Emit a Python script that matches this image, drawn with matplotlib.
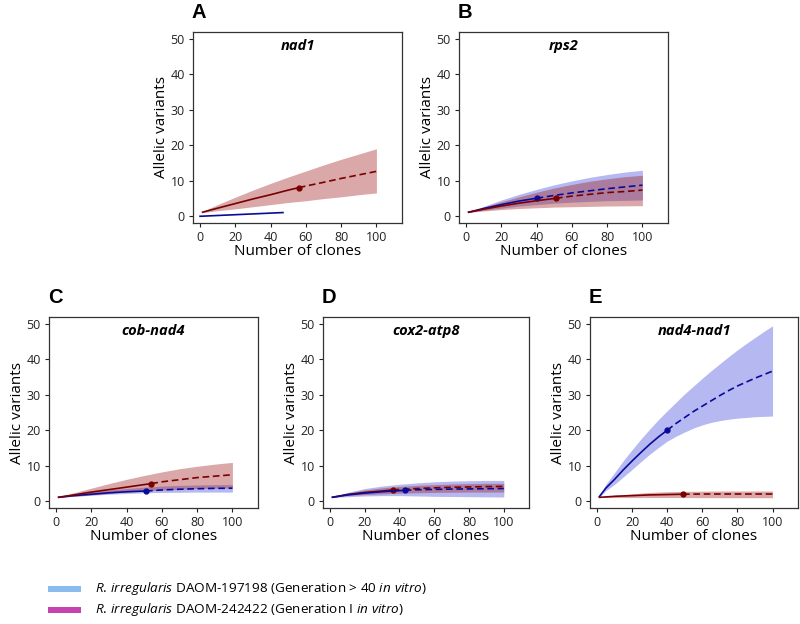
import matplotlib
matplotlib.use("Agg")
import matplotlib.pyplot as plt
from matplotlib.patches import Rectangle
import numpy as np

plt.rcParams['font.family'] = ['Open Sans', 'DejaVu Sans']
plt.rcParams['mathtext.fontset'] = 'custom'
plt.rcParams['mathtext.rm'] = 'Open Sans'
plt.rcParams['mathtext.it'] = 'Open Sans:italic'

# ---------------- data ----------------
GRID = [1, 10, 20, 30, 40, 50, 60, 70, 80, 90, 100]
GRID_E = [1, 5, 10, 15, 20, 25, 30, 35, 40, 45, 50, 55, 60, 65, 70, 75, 80, 85, 90, 95, 100]
titles = ["nad1", "rps2", "cob-nad4", "cox2-atp8", "nad4-nad1"]
letters = ["A", "B", "C", "D", "E"]

# Panel A (nad1)
a_red_x = [1, 10, 20, 30, 40, 50, 56, 60, 70, 80, 90, 100]
a_red_y = [1, 2.2, 3.5, 4.8, 6.0, 7.3, 8.0, 8.45, 9.5, 10.6, 11.6, 12.6]
a_red_obs = 56
a_red_up = [1.2, 3.2, 5.3, 7.3, 9.2, 11.0, 12.7, 14.4, 16.0, 17.5, 19.0]
a_red_lo = [0.9, 1.5, 2.0, 2.6, 3.2, 3.8, 4.3, 4.9, 5.4, 6.0, 6.5]
a_blue_x = [0, 47]
a_blue_y = [-0.1, 0.95]

# Panel B (rps2)
b_blue_x = [1, 10, 20, 30, 40, 50, 60, 70, 80, 90, 100]
b_blue_y = [1, 2.1, 3.2, 4.2, 5.0, 5.8, 6.5, 7.1, 7.7, 8.2, 8.7]
b_blue_obs = 40
b_blue_up = [1, 2.7, 4.5, 6.1, 7.5, 8.8, 9.9, 10.9, 11.7, 12.4, 12.9]
b_blue_lo = [1, 1.6, 2.2, 2.8, 3.2, 3.6, 3.9, 4.1, 4.3, 4.4, 4.5]
b_red_x = [1, 10, 20, 30, 40, 51, 60, 70, 80, 90, 100]
b_red_y = [1, 1.9, 2.8, 3.6, 4.3, 5.0, 5.6, 6.1, 6.6, 6.9, 7.3]
b_red_obs = 51
b_red_up = [1, 2.5, 4.0, 5.4, 6.7, 7.9, 8.9, 9.8, 10.5, 11.1, 11.5]
b_red_lo = [1, 1.4, 1.8, 2.1, 2.3, 2.5, 2.6, 2.7, 2.8, 2.85, 2.9]

# Panel C (cob-nad4)
c_red_x = [1, 10, 20, 30, 40, 54, 60, 70, 80, 90, 100]
c_red_y = [1, 1.7, 2.5, 3.2, 3.9, 4.9, 5.4, 6.0, 6.6, 7.0, 7.4]
c_red_obs = 54
c_red_up = [1, 2.3, 3.6, 4.9, 6.1, 7.2, 8.2, 9.1, 9.8, 10.4, 10.9]
c_red_lo = [1, 1.3, 1.7, 2.1, 2.5, 2.8, 3.1, 3.3, 3.5, 3.6, 3.7]
c_blue_x = [1, 10, 20, 30, 40, 51, 60, 70, 80, 90, 100]
c_blue_y = [1, 1.5, 1.9, 2.3, 2.6, 2.8, 3.1, 3.3, 3.45, 3.55, 3.6]
c_blue_obs = 51
c_blue_up = [1, 1.8, 2.5, 3.1, 3.5, 3.9, 4.2, 4.4, 4.5, 4.6, 4.6]
c_blue_lo = [1, 1.3, 1.6, 1.9, 2.1, 2.3, 2.4, 2.45, 2.5, 2.5, 2.5]

# Panel D (cox2-atp8)
d_red_x = [1, 10, 20, 30, 36, 40, 50, 60, 70, 80, 90, 100]
d_red_y = [1, 1.8, 2.4, 2.8, 3.1, 3.25, 3.5, 3.7, 3.85, 3.95, 4.05, 4.1]
d_red_obs = 36
d_red_up = [1, 2.2, 3.1, 3.7, 4.1, 4.4, 4.6, 4.8, 4.9, 5.0, 5.0]
d_red_lo = [1, 1.5, 1.8, 2.0, 2.2, 2.3, 2.4, 2.45, 2.5, 2.5, 2.5]
d_blue_x = [1, 10, 20, 30, 43, 50, 60, 70, 80, 90, 100]
d_blue_y = [1, 1.7, 2.2, 2.6, 3.0, 3.15, 3.25, 3.35, 3.4, 3.45, 3.5]
d_blue_obs = 43
d_blue_up = [1, 2.4, 3.5, 4.2, 4.7, 5.1, 5.4, 5.6, 5.7, 5.8, 5.8]
d_blue_lo = [1, 1.2, 1.4, 1.5, 1.5, 1.4, 1.3, 1.25, 1.2, 1.15, 1.1]

# Panel E (nad4-nad1)
e_blue_x = GRID_E
e_blue_y = [1, 3.6, 6.1, 8.8, 11.3, 13.7, 16.0, 18.1, 20.0, 21.9, 23.6,
            25.3, 26.8, 28.3, 29.8, 31.2, 32.5, 33.6, 34.7, 35.7, 36.7]
e_blue_obs = 40
e_blue_up = [1, 4.7, 8.0, 11.4, 14.5, 17.5, 20.3, 23.0, 25.5, 27.9, 30.3,
             32.5, 34.7, 36.8, 38.8, 40.8, 42.7, 44.5, 46.2, 47.9, 49.5]
e_blue_lo = [1, 2.9, 4.7, 6.8, 8.9, 11.1, 13.2, 15.1, 16.9, 18.3, 19.5,
             20.6, 21.5, 22.2, 22.7, 23.1, 23.4, 23.6, 23.8, 23.9, 24.0]
e_red_x = [1, 10, 20, 30, 40, 49, 60, 70, 80, 90, 100]
e_red_y = [1, 1.3, 1.5, 1.7, 1.8, 1.9, 1.95, 1.95, 1.95, 1.95, 1.95]
e_red_obs = 49
e_red_up = [1, 1.6, 2.0, 2.4, 2.6, 2.7, 2.75, 2.8, 2.8, 2.8, 2.8]
e_red_lo = [1, 0.95, 0.95, 0.95, 0.95, 0.95, 0.92, 0.9, 0.9, 0.9, 0.9]

legend_labels = [
    r"$\mathit{R.\,irregularis}$ DAOM-197198 (Generation > 40 $\mathit{in\ vitro}$)",
    r"$\mathit{R.\,irregularis}$ DAOM-242422 (Generation I $\mathit{in\ vitro}$)",
]

# ---------------- style ----------------
BLUE_LINE = "#0a0a9a"
RED_LINE = "#7a0000"
BLUE_FILL = (0.25, 0.28, 0.86)
RED_FILL = (0.62, 0.10, 0.10)
FILL_ALPHA = 0.38

fig = plt.figure(figsize=(8, 6.24), dpi=100)
W, H = 800, 624

boxes = [(193, 32, 209, 191), (459, 32, 209, 191),
         (49, 317, 209, 191), (323, 317, 206, 191), (590, 317, 208, 191)]


def make_ax(i):
    l, t, w, h = boxes[i]
    ax = fig.add_axes([l / W, 1 - (t + h) / H, w / W, h / H])
    ax.set_xlim(-4, 114.5)
    ax.set_ylim(-2, 52)
    ax.set_xticks([0, 20, 40, 60, 80, 100])
    ax.set_yticks([0, 10, 20, 30, 40, 50])
    ax.tick_params(labelsize=9, length=3, width=0.8, colors="#222222", pad=3)
    for s in ax.spines.values():
        s.set_linewidth(0.9)
        s.set_color("#333333")
    ax.set_xlabel("Number of clones", fontsize=11, labelpad=0)
    ax.set_ylabel("Allelic variants", fontsize=11, labelpad=1)
    ax.text(0.5, 0.925, titles[i], transform=ax.transAxes, ha="center",
            va="center", fontsize=10.5, fontweight="bold", fontstyle="italic")
    fig.text((l - 1) / W, 1 - (t - 14) / H, letters[i], fontsize=14.5,
             fontweight="bold", family=["Liberation Sans", "DejaVu Sans"],
             ha="left", va="baseline")
    return ax


def band(ax, grid, up, lo, color):
    ax.fill_between(grid, lo, up, color=color, alpha=FILL_ALPHA, lw=0)


def curve(ax, xs, ys, obs, color):
    xs = np.asarray(xs, float)
    ys = np.asarray(ys, float)
    k = int(np.where(xs == obs)[0][0])
    ax.plot(xs[:k + 1], ys[:k + 1], color=color, lw=1.2, solid_capstyle="butt")
    ax.plot(xs[k:], ys[k:], color=color, lw=1.2, ls=(0, (4, 2.2)))
    ax.plot([xs[k]], [ys[k]], "o", color=color, ms=3.5)


# A
ax = make_ax(0)
band(ax, GRID, a_red_up, a_red_lo, RED_FILL)
curve(ax, a_red_x, a_red_y, a_red_obs, RED_LINE)
ax.plot(a_blue_x, a_blue_y, color=BLUE_LINE, lw=1.2)

# B
ax = make_ax(1)
band(ax, GRID, b_blue_up, b_blue_lo, BLUE_FILL)
band(ax, GRID, b_red_up, b_red_lo, RED_FILL)
curve(ax, b_blue_x, b_blue_y, b_blue_obs, BLUE_LINE)
curve(ax, b_red_x, b_red_y, b_red_obs, RED_LINE)

# C
ax = make_ax(2)
band(ax, GRID, c_blue_up, c_blue_lo, BLUE_FILL)
band(ax, GRID, c_red_up, c_red_lo, RED_FILL)
curve(ax, c_blue_x, c_blue_y, c_blue_obs, BLUE_LINE)
curve(ax, c_red_x, c_red_y, c_red_obs, RED_LINE)

# D
ax = make_ax(3)
band(ax, GRID, d_blue_up, d_blue_lo, BLUE_FILL)
band(ax, GRID, d_red_up, d_red_lo, RED_FILL)
curve(ax, d_red_x, d_red_y, d_red_obs, RED_LINE)
curve(ax, d_blue_x, d_blue_y, d_blue_obs, BLUE_LINE)

# E
ax = make_ax(4)
band(ax, GRID_E, e_blue_up, e_blue_lo, BLUE_FILL)
band(ax, GRID, e_red_up, e_red_lo, RED_FILL)
curve(ax, e_blue_x, e_blue_y, e_blue_obs, BLUE_LINE)
curve(ax, e_red_x, e_red_y, e_red_obs, RED_LINE)

# legend
leg_colors = ["#8bbcf0", "#c442b2"]
leg_y = [588.5, 609.5]
for c, y, lab in zip(leg_colors, leg_y, legend_labels):
    fig.patches.append(Rectangle((48 / W, 1 - (y + 3) / H), 33 / W, 6 / H,
                                 transform=fig.transFigure, color=c, lw=0))
    fig.text(95 / W, 1 - y / H, lab, fontsize=9.7, ha="left", va="center")

fig.savefig("out.png", dpi=100)
